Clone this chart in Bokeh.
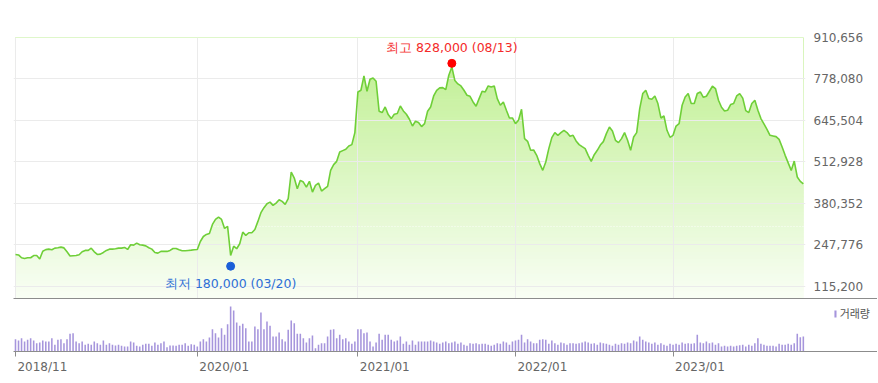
import numpy as np
import pandas as pd
from bokeh.plotting import figure
from bokeh.models import (Range1d, FixedTicker, NumeralTickFormatter, Grid, DatetimeAxis, Span,
                          Legend, LegendItem, CustomLabelingPolicy)
from bokeh.layouts import column
from bokeh.embed import file_html
from bokeh.resources import INLINE
from bokeh.core.properties import value

# ---------------- data (weekly closes) ----------------
FIRST_WEEK = "2018-11-09"
PRICE = [
    217600, 216000, 207000, 204500, 207000, 207000, 214000, 214000, 203000, 228000,
    233000, 234500, 232500, 237700, 239000, 241000, 238500, 226000, 212500, 213500,
    214400, 216500, 226000, 230400, 230400, 237700, 226000, 217600, 218700, 224000,
    230400, 234500, 234500, 235600, 237700, 237700, 240000, 233500, 248500, 247300,
    253800, 248500, 247300, 245000, 239000, 234500, 224000, 221800, 227200, 227200,
    227200, 230400, 236600, 236600, 232500, 229300, 229300, 230400, 231400, 232500,
    233500, 259000, 275000, 281500, 284700, 313500, 329500, 337000, 329500, 300700,
    307000, 214400, 244000, 235800, 251800, 288900, 278400, 286900, 286900, 297500,
    323100, 350900, 366900, 379700, 384800, 374300, 381600, 392500, 387100, 377500,
    395700, 480900, 461600, 427600, 454300, 448800, 432800, 451100, 416900, 438300,
    445600, 420000, 427600, 435100, 486300, 504500, 515000, 544800, 549200, 553400,
    564000, 568400, 606800, 736700, 742100, 787900, 738900, 777300, 781500, 770900,
    675000, 670800, 688700, 664400, 651600, 665400, 667600, 691900, 676000, 665400,
    649400, 627900, 643000, 638800, 626000, 635600, 675000, 688700, 723900, 742100,
    749600, 750600, 744300, 790100, 816700, 773100, 762300, 755900, 742100, 726100,
    722900, 704700, 690900, 715500, 738900, 736700, 755900, 752700, 755900, 715500,
    694200, 704700, 678200, 653600, 653600, 635600, 646200, 681400, 587600, 579000,
    550200, 551200, 534200, 507700, 486300, 512800, 555600, 590800, 606800, 598200,
    606800, 614200, 606800, 595000, 598200, 580000, 568400, 561800, 555600, 534200,
    515000, 536300, 550200, 567000, 578000, 603600, 624700, 611900, 582200, 574800,
    587600, 606800, 582200, 550200, 592800, 606800, 683600, 731500, 742100, 715500,
    713300, 723900, 699600, 653600, 659900, 614200, 591800, 598200, 627900, 635600,
    694200, 720700, 731500, 699600, 699600, 731500, 736700, 719600, 722900, 738900,
    754900, 747600, 710100, 687700, 675900, 678200, 696400, 699600, 723900, 731500,
    717000, 677100, 670800, 699600, 710100, 678200, 651600, 634400, 617400, 598200,
    596100, 593900, 585300, 560700, 534200, 510000, 486000, 516000, 464900, 451100,
    443000,
]
VOLUME = [  # weekly volume (relative units)
    37, 33, 40, 30, 35, 40, 33, 25, 27, 33, 30, 30, 40, 20, 35, 37, 25, 37, 53, 55,
    30, 25, 30, 20, 23, 20, 30, 25, 20, 33, 20, 25, 20, 18, 20, 17, 15, 15, 30, 27,
    17, 15, 20, 23, 23, 17, 27, 20, 25, 30, 13, 18, 18, 17, 20, 20, 25, 17, 22, 20,
    15, 30, 37, 30, 42, 67, 55, 42, 70, 50, 82, 135, 123, 87, 77, 83, 70, 30, 30, 75,
    67, 117, 67, 90, 77, 45, 45, 57, 37, 30, 65, 93, 85, 53, 53, 40, 27, 40, 48, 10,
    20, 25, 25, 45, 65, 67, 40, 50, 37, 40, 30, 23, 30, 67, 67, 55, 57, 30, 15, 27,
    53, 35, 50, 50, 35, 30, 33, 45, 23, 30, 20, 33, 20, 30, 30, 30, 30, 33, 30, 27,
    23, 27, 30, 25, 27, 30, 23, 27, 20, 17, 25, 23, 25, 22, 23, 23, 20, 17, 20, 25,
    23, 30, 27, 20, 30, 33, 35, 50, 27, 37, 30, 25, 25, 35, 37, 35, 23, 33, 25, 20,
    27, 25, 20, 25, 25, 23, 25, 27, 30, 27, 23, 25, 20, 27, 25, 23, 20, 17, 23, 20,
    25, 23, 27, 25, 33, 30, 45, 35, 30, 27, 23, 27, 20, 25, 20, 17, 23, 20, 23, 20,
    27, 23, 25, 23, 25, 50, 27, 25, 30, 25, 27, 20, 25, 15, 17, 15, 17, 15, 17, 19,
    20, 15, 20, 17, 25, 40, 23, 20, 17, 17, 17, 15, 23, 20, 20, 23, 20, 25, 53, 43,
    45,
]
PRICE_TICKS = [115200, 247776, 380352, 512928, 645504, 778080, 910656]
PRICE_AXIS_MIN = 76800
X_TICK_DATES = ["2018-11-09", "2020-01-03", "2021-01-08", "2022-01-07", "2023-01-06"]
X_TICK_LABELS = ["2018/11", "2020/01", "2021/01", "2022/01", "2023/01"]
HIGH_DATE, HIGH_VALUE, HIGH_LABEL = "2021-08-13", 828000, "최고 828,000 (08/13)"
LOW_DATE, LOW_VALUE, LOW_LABEL = "2020-03-20", 180000, "최저 180,000 (03/20)"
REF_LEVEL = 307000
VOLUME_LABEL = "거래량"
VOLUME_AXIS_TOP = 159

# ---------------- helpers ----------------
DAY = 86400000.0


def ms(d):
    return pd.Timestamp(d).value / 1e6


dates = [ms(d) for d in pd.date_range(FIRST_WEEK, periods=len(PRICE), freq="7D")]
tick_ms = [ms(d) for d in X_TICK_DATES]

FONT = "DejaVu Sans"
LABEL_COLOR = "#666666"
GRID_COLOR = "#ebebeb"

x0 = dates[0] - 4.6 * DAY
x1 = dates[-1] + 5.0 * DAY
PRICE_FRAME_W = 792
VOL_FRAME_W = 864
x1v = x0 + (x1 - x0) * VOL_FRAME_W / PRICE_FRAME_W
px_per_ms = PRICE_FRAME_W / (x1 - x0)
LEFT = 13

NO_LABELS = CustomLabelingPolicy(code="return new Set()")

# ---------------- price chart ----------------
p = figure(frame_width=PRICE_FRAME_W, frame_height=261,
           x_range=Range1d(x0, x1), y_range=Range1d(PRICE_AXIS_MIN, PRICE_TICKS[-1]),
           x_axis_type="datetime", x_axis_location=None, y_axis_location="right",
           output_backend="svg", toolbar_location=None,
           min_border_left=LEFT, min_border_top=37, min_border_bottom=0, min_border_right=0)
p.outline_line_color = None
p.xgrid.visible = False

ymin, ymax = PRICE_AXIS_MIN, PRICE_TICKS[-1]
N = 72
edges = np.linspace(ymin, ymax, N + 1)
tt = ((edges[:-1] + edges[1:]) / 2 - ymin) / (ymax - ymin)
top_c = np.array([188, 238, 140])
bot_c = np.array([249, 254, 245])
cols = ["#%02x%02x%02x" % tuple(int(round(v)) for v in (bot_c + (top_c - bot_c) * t)) for t in tt]
p.quad(left=dates[0], right=dates[-1], bottom=edges[:-1], top=edges[1:],
       fill_color=cols, line_color=cols, line_width=1, level="image")
p.varea(x=dates, y1=PRICE, y2=ymax, fill_color="white", level="image")

p.add_layout(Span(location=REF_LEVEL, dimension="width", line_color="white",
                  line_alpha=0.9, line_dash="1 2", line_width=1, level="underlay"))

xg = Grid(dimension=0, ticker=FixedTicker(ticks=tick_ms), grid_line_color=GRID_COLOR)
p.add_layout(xg)
p.ygrid.grid_line_color = GRID_COLOR

p.line(dates, PRICE, line_color="#6fcf38", line_width=1.6)

p.yaxis.ticker = FixedTicker(ticks=PRICE_TICKS)
p.yaxis.formatter = NumeralTickFormatter(format="0,0")
p.yaxis.axis_line_color = None
p.yaxis.major_tick_line_color = None
p.yaxis.minor_tick_line_color = None
p.yaxis.major_tick_out = 0
p.yaxis.major_tick_in = 0
p.yaxis.minor_tick_out = 0
p.yaxis.major_label_standoff = 8
p.yaxis.major_label_text_font = FONT
p.yaxis.major_label_text_font_size = "12px"
p.yaxis.major_label_text_color = LABEL_COLOR

p.scatter([ms(HIGH_DATE)], [HIGH_VALUE], size=8, fill_color="#ff0000", line_color="#ff0000")
p.text([ms(HIGH_DATE)], [HIGH_VALUE], text=[HIGH_LABEL], y_offset=-16,
       text_align="center", text_baseline="middle", text_font=value(FONT),
       text_font_size="12.5px", text_color="#f42a2a")
p.scatter([ms(LOW_DATE)], [LOW_VALUE], size=8, fill_color="#1a5fd8", line_color="#1a5fd8")
p.text([ms(LOW_DATE)], [LOW_VALUE], text=[LOW_LABEL], y_offset=17,
       text_align="center", text_baseline="middle", text_font=value(FONT),
       text_font_size="12.5px", text_color="#2e6fd6")

# ---------------- volume chart ----------------
vp = figure(frame_width=VOL_FRAME_W, frame_height=53,
            x_range=Range1d(x0, x1v), y_range=Range1d(0, VOLUME_AXIS_TOP),
            x_axis_type="datetime", y_axis_location=None,
            output_backend="svg", toolbar_location=None,
            min_border_left=LEFT, min_border_right=0, min_border_top=0, min_border_bottom=0)
vp.outline_line_color = None
vp.grid.visible = False

r = vp.vbar(x=dates, top=VOLUME, width=3.6 * DAY, fill_color="#a695dc", line_color=None)

# tick-only axis on the baseline
vp.xaxis.ticker = FixedTicker(ticks=tick_ms)
vp.xaxis.axis_line_color = "#8c8c8c"
vp.xaxis.major_tick_line_color = "#8c8c8c"
vp.xaxis.major_tick_in = 0
vp.xaxis.major_tick_out = 5
vp.xaxis.minor_tick_line_color = None
vp.xaxis.major_label_text_font_size = "0px"
vp.xaxis.major_label_standoff = 0
vp.xaxis.major_label_policy = NO_LABELS

# label axis: labels start just right of each tick
shift = 26.9 / px_per_ms
label_ticks = [t + shift for t in tick_ms]
lab_axis = DatetimeAxis(ticker=FixedTicker(ticks=label_ticks),
                        major_label_overrides={t: lab for t, lab in zip(label_ticks, X_TICK_LABELS)},
                        axis_line_color=None, major_tick_line_color=None, minor_tick_line_color=None,
                        major_tick_in=0, major_tick_out=0, major_label_standoff=3,
                        major_label_text_font=FONT, major_label_text_font_size="12px",
                        major_label_text_color=LABEL_COLOR)
vp.add_layout(lab_axis, "below")

top_axis = DatetimeAxis(ticker=FixedTicker(ticks=[]), major_label_text_font_size="0px",
                        major_tick_in=0, major_tick_out=0, minor_tick_in=0, minor_tick_out=0,
                        major_label_standoff=0, axis_line_color="#8c8c8c",
                        major_label_policy=CustomLabelingPolicy(code="return new Set()"))
vp.add_layout(top_axis, "above")

legend = Legend(items=[LegendItem(label=VOLUME_LABEL, renderers=[r])], location="top_right",
                glyph_width=3, glyph_height=9, label_text_font_size="11px",
                label_text_color="#555555", label_text_font="Noto Sans CJK KR",
                background_fill_alpha=0, border_line_color=None, margin=7, padding=2,
                label_standoff=3, label_height=12)
vp.add_layout(legend)

layout = column(p, vp)
open("out.html", "w").write(file_html(layout, INLINE))
